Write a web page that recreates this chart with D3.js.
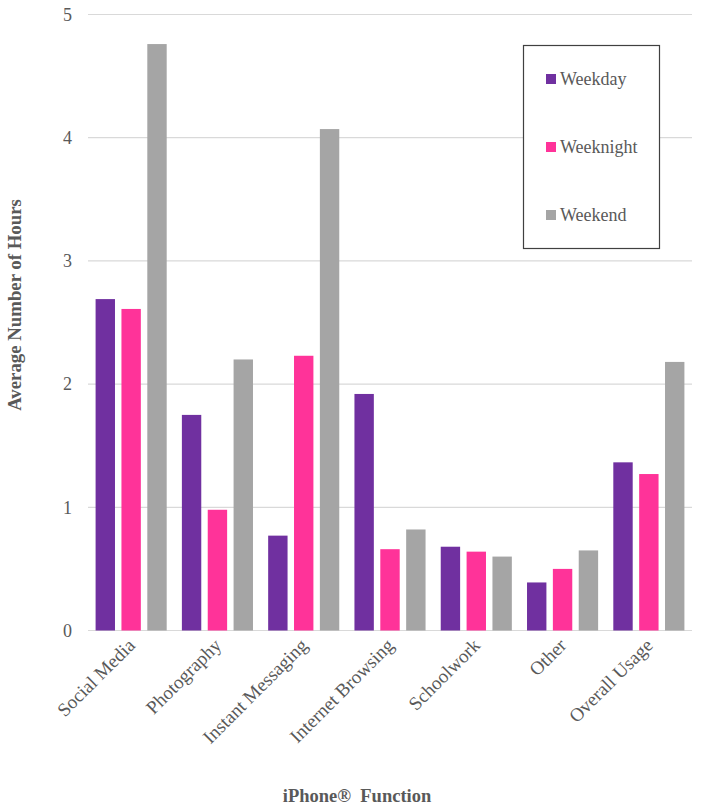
<!DOCTYPE html>
<html><head><meta charset="utf-8">
<script src="https://cdn.jsdelivr.net/npm/d3@7"></script>
<style>body{margin:0;background:#fff}</style>
</head><body>
<svg id="chart" width="701" height="810"></svg>
<script>
const categories = ["Social Media","Photography","Instant Messaging","Internet Browsing","Schoolwork","Other","Overall Usage"];
const seriesNames = ["Weekday","Weeknight","Weekend"];
const weekday   = [2.69, 1.75, 0.77, 1.92, 0.68, 0.39, 1.365];
const weeknight = [2.61, 0.98, 2.23, 0.66, 0.64, 0.50, 1.27];
const weekend   = [4.76, 2.20, 4.07, 0.82, 0.60, 0.65, 2.18];
const yTicks = [0,1,2,3,4,5];
const colors = ["#7030A0","#FF3399","#A5A5A5"];

const series = [weekday, weeknight, weekend];
const svg = d3.select("#chart");
const font = "'Liberation Serif','Times New Roman',serif";
const m = {left:88, right:9, top:15, bottom:180};
const W = 701, H = 810;
const x0 = d3.scaleBand().domain(categories).range([m.left, W-m.right]).paddingInner(0.176).paddingOuter(0.088);
const x1 = d3.scaleBand().domain(seriesNames).range([0, x0.bandwidth()]).paddingInner(0.25);
const y = d3.scaleLinear().domain([0,5]).range([630.5, 14.5]);

// gridlines
svg.append("g").selectAll("line").data(yTicks).join("line")
  .attr("x1", m.left).attr("x2", W-m.right)
  .attr("y1", d=>y(d)).attr("y2", d=>y(d))
  .attr("stroke","#d9d9d9").attr("stroke-width",1.2);

// y axis labels
const yAxis = d3.axisLeft(y).tickValues(yTicks).tickSize(0).tickPadding(0).tickFormat(d3.format("d"));
const ga = svg.append("g").attr("transform",`translate(72,0)`).call(yAxis);
ga.select(".domain").remove();
ga.selectAll("text").attr("font-family",font).attr("font-size",18).attr("fill","#595959");

// bars
const groups = svg.append("g").selectAll("g").data(categories).join("g")
  .attr("transform", d=>`translate(${x0(d)},0)`);
groups.selectAll("rect").data((c,i)=>seriesNames.map((s,j)=>({s, v:series[j][i], j})))
  .join("rect")
  .attr("x", d=>x1(d.s)).attr("width", x1.bandwidth())
  .attr("y", d=>y(d.v)).attr("height", d=>y(0)-y(d.v))
  .attr("fill", d=>colors[d.j]);

// x axis labels
const xAxis = d3.axisBottom(x0).tickSize(0).tickPadding(0);
const gx = svg.append("g").attr("transform",`translate(0,${y(0)})`).call(xAxis);
gx.select(".domain").remove();
gx.selectAll("text")
  .attr("font-family",font).attr("font-size",19).attr("fill","#595959")
  .attr("text-anchor","end").attr("dy",0)
  .attr("transform","translate(5,16) rotate(-45)");

// axis titles
svg.append("text").attr("x",357).attr("y",802).attr("text-anchor","middle")
  .attr("font-family",font).attr("font-weight","bold").attr("font-size",18.5).attr("fill","#595959")
  .style("white-space","pre").text("iPhone®  Function");
svg.append("text").attr("transform","translate(21,305) rotate(-90)").attr("text-anchor","middle")
  .attr("font-family",font).attr("font-weight","bold").attr("font-size",18.8).attr("fill","#595959")
  .text("Average Number of Hours");

// legend
const lg = svg.append("g");
lg.append("rect").attr("x",523.5).attr("y",45.5).attr("width",136).attr("height",203)
  .attr("fill","#fff").attr("stroke","#404040").attr("stroke-width",1.2);
const items = lg.selectAll("g.item").data(seriesNames).join("g").attr("class","item")
  .attr("transform",(d,i)=>`translate(546,${79 + i*68})`);
items.append("rect").attr("x",0).attr("y",-5).attr("width",10).attr("height",10).attr("fill",(d,i)=>colors[i]);
items.append("text").attr("x",14).attr("y",6).attr("font-family",font).attr("font-size",18).attr("fill","#595959").text(d=>d);
</script>
</body></html>
